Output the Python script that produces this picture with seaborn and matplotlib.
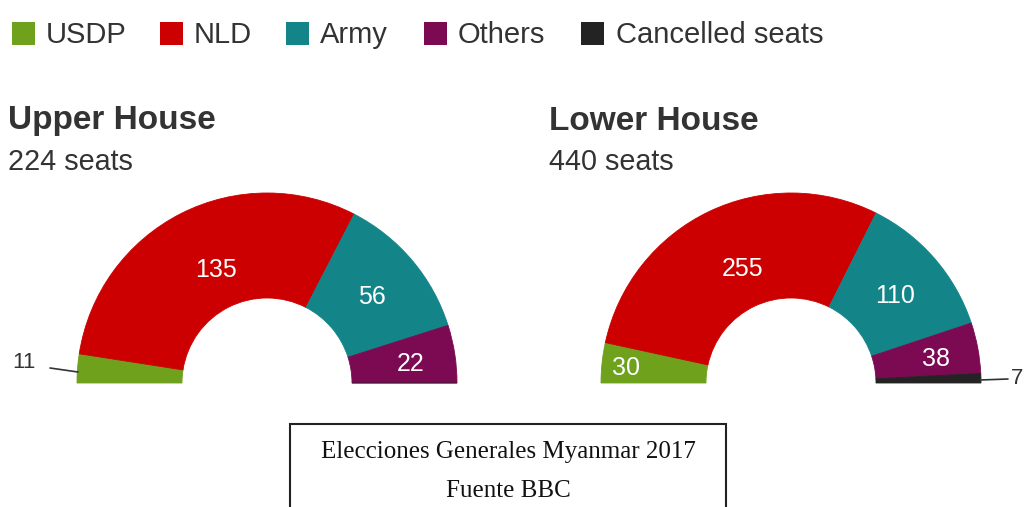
import numpy as np
import matplotlib
matplotlib.use("Agg")
import matplotlib.pyplot as plt
import seaborn as sns
from matplotlib.patches import Rectangle

sns.set_theme(style="white")
plt.rcParams['font.family'] = ['Liberation Sans', 'DejaVu Sans']

# ---- data ----
parties = ["USDP", "NLD", "Army", "Others", "Cancelled seats"]
colors = ["#6fa11c", "#cc0000", "#138589", "#7b0a52", "#232323"]
upper_seats = [11, 135, 56, 22, 0]
lower_seats = [30, 255, 110, 38, 7]
upper_title, upper_sub = "Upper House", "224 seats"
lower_title, lower_sub = "Lower House", "440 seats"
caption = ["Elecciones Generales Myanmar 2017", "Fuente BBC"]

W, H = 1026, 507
fig = plt.figure(figsize=(W / 100, H / 100), dpi=100)
ax = fig.add_axes([0, 0, 1, 1])

def py(y):  # convert top-based pixel to data y
    return H - y

R_OUT, R_IN = 190, 85
text_col = "#333333"

def half_donut(values, cx, cy, label_style):
    total = sum(values)
    wedges, _ = ax.pie(values + [total], center=(cx, py(cy)), radius=R_OUT,
                       startangle=180, counterclock=False,
                       colors=colors + ["none"],
                       wedgeprops=dict(width=R_OUT - R_IN, linewidth=0.6),
                       normalize=True)
    for w, c in zip(wedges[:-1], colors):
        w.set_edgecolor(c)
    wedges[-1].set_edgecolor("none")
    for i, w in enumerate(wedges[:-1]):
        if values[i] == 0:
            continue
        st = label_style.get(i, {})
        if st.get("outside"):
            continue
        mid = np.deg2rad((w.theta1 + w.theta2) / 2 + st.get("dtheta", 0))
        r = st.get("r", (R_OUT + R_IN) / 2)
        ax.text(cx + r * np.cos(mid), py(cy) + r * np.sin(mid) - 3, str(values[i]),
                color="white", fontsize=18, ha="center", va="center")
    return wedges

# Upper House
uw = half_donut(upper_seats, 267, 383, {0: {"outside": True}, 1: {"r": 127, "dtheta": -3}, 3: {"r": 145}})
# Lower House
lw = half_donut(lower_seats, 791, 383, {0: {"r": 166}, 1: {"r": 127, "dtheta": -3}, 3: {"r": 148}, 4: {"outside": True}})

# outside labels with leader lines
ax.plot([50, 78], [py(368), py(372)], color=text_col, lw=1.2)
ax.text(12, py(362), str(upper_seats[0]), color=text_col, fontsize=16, ha="left", va="center")
ax.plot([980, 1008], [py(380), py(379)], color=text_col, lw=1.2)
ax.text(1011, py(379), str(lower_seats[4]), color=text_col, fontsize=16, ha="left", va="center")

# titles
ax.text(8, py(121), upper_title, fontsize=24, fontweight="bold", color=text_col, ha="left", va="center")
ax.text(8, py(162), upper_sub, fontsize=20.7, color=text_col, ha="left", va="center")
ax.text(549, py(121), lower_title, fontsize=24, fontweight="bold", color=text_col, ha="left", va="center")
ax.text(549, py(162), lower_sub, fontsize=20.7, color=text_col, ha="left", va="center")

# legend
sq_x = [12, 160, 286, 424, 581]
tx_x = [46, 194, 320, 458, 616]
for name, c, sx, tx in zip(parties, colors, sq_x, tx_x):
    ax.add_patch(Rectangle((sx, py(45)), 23, 23, facecolor=c, edgecolor="none"))
    ax.text(tx, py(35), name, fontsize=21, color=text_col, ha="left", va="center")

# caption box
ax.add_patch(Rectangle((290, py(540)), 436, 116, facecolor="white",
                       edgecolor="#222222", lw=1.5, clip_on=True))
ax.text(508, py(452), caption[0], fontsize=18, family=["Liberation Serif", "DejaVu Serif"],
        color="#111111", ha="center", va="center")
ax.text(508, py(491), caption[1], fontsize=18, family=["Liberation Serif", "DejaVu Serif"],
        color="#111111", ha="center", va="center")

ax.set_xlim(0, W)
ax.set_ylim(0, H)
ax.set_aspect("auto")
ax.axis("off")
fig.savefig("out.png", dpi=100, facecolor="white")
